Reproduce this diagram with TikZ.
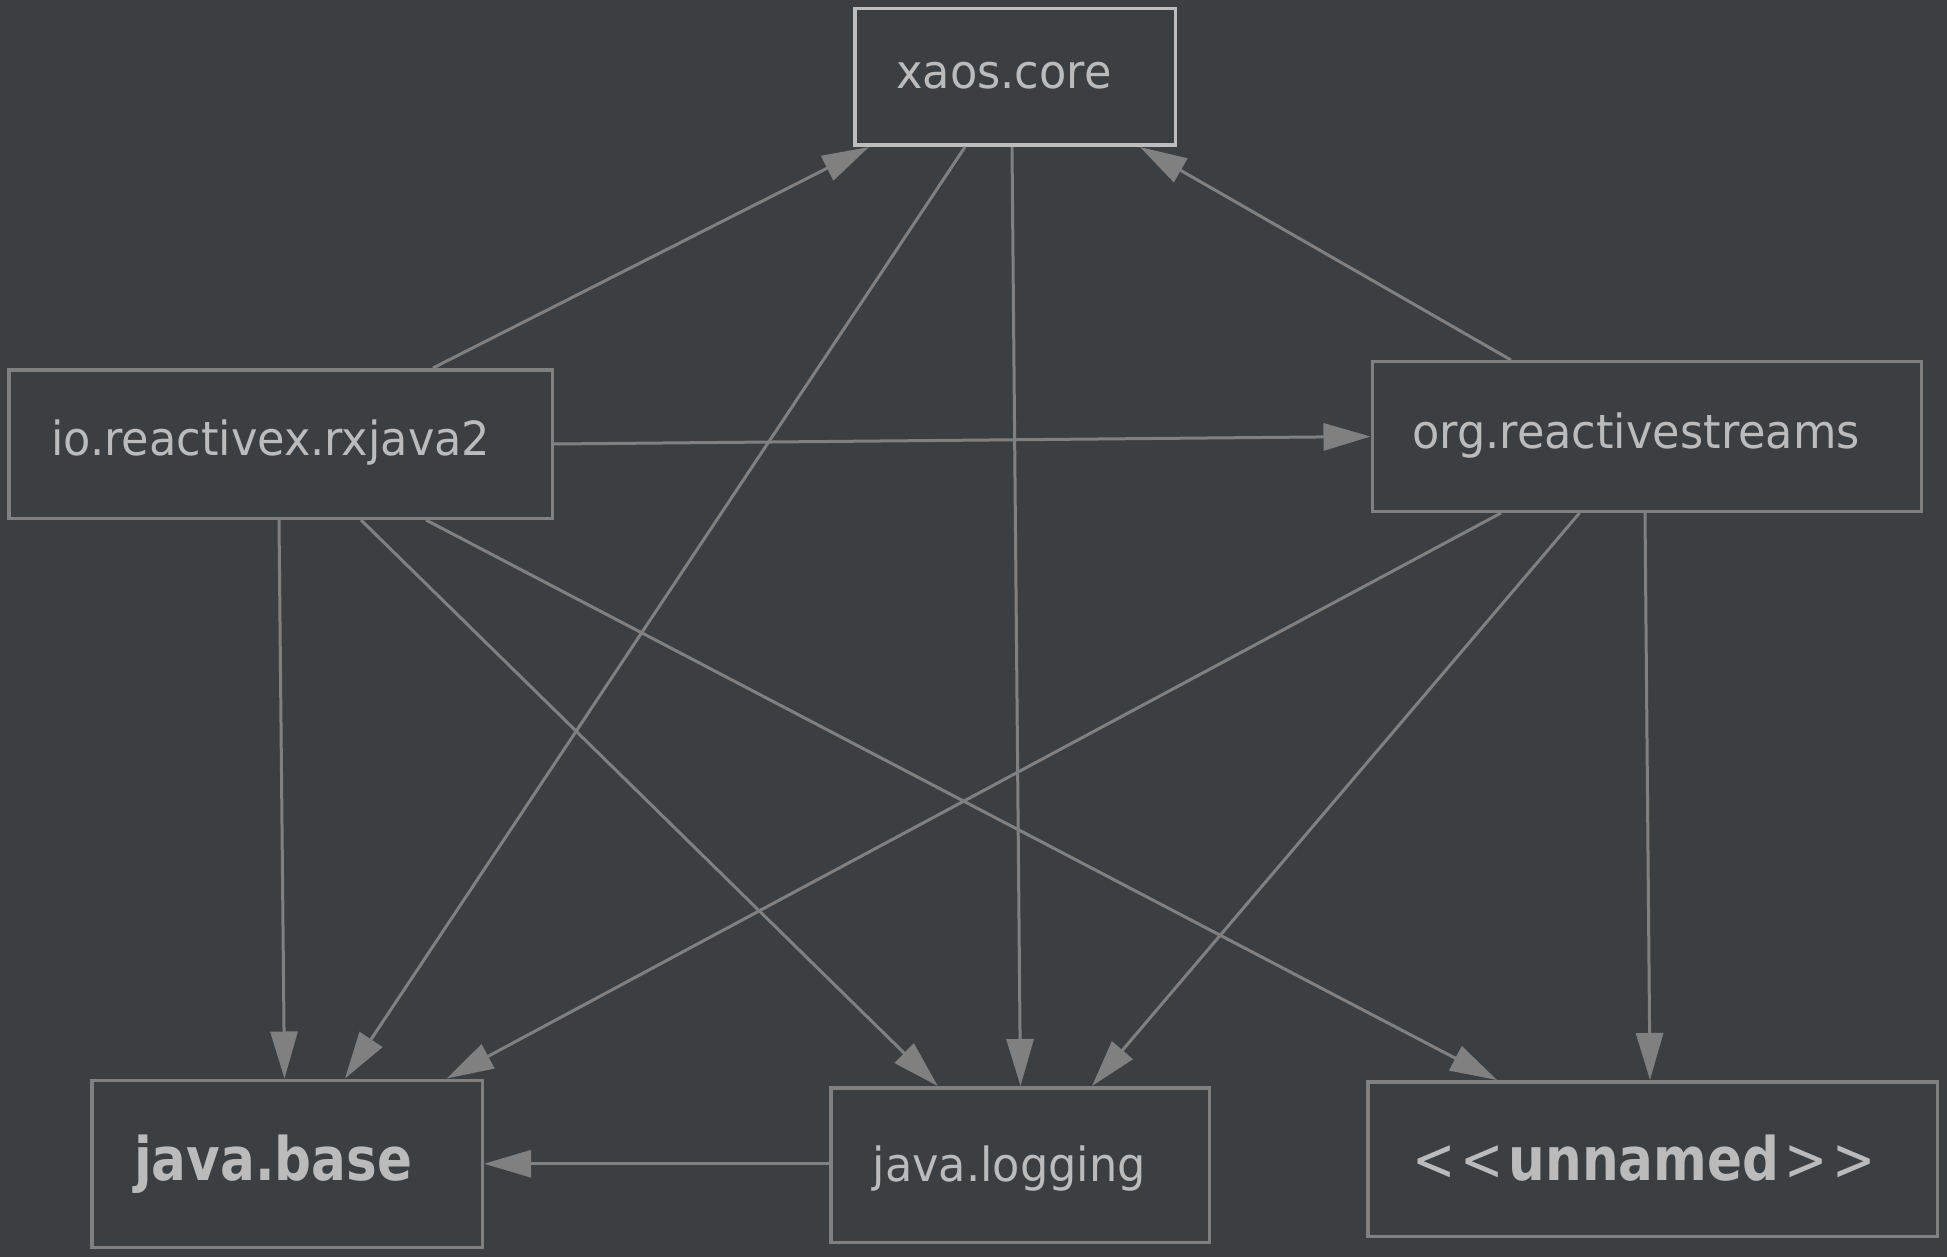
\documentclass[tikz,border=0pt]{standalone}
\usepackage{fontspec}
\setmainfont{DejaVu Sans}[FakeStretch=0.95]
\newfontfamily\boldfam{DejaVu Sans}[FakeStretch=0.86]
\usetikzlibrary{arrows.meta}
\definecolor{bgc}{HTML}{3C3F41}
\definecolor{linec}{HTML}{808080}
\definecolor{txtc}{HTML}{BBBBBB}
\definecolor{selc}{HTML}{BDBDBD}
\begin{document}
\begin{tikzpicture}[x=1pt,y=-1pt,
  modbox/.style={draw=linec, line width=3.5pt, fill=bgc, inner sep=0pt, rectangle},
  lbl/.style={anchor=base west, inner sep=0pt, text=txtc, font=\fontsize{47}{50}\selectfont},
  blbl/.style={anchor=base west, inner sep=0pt, text=txtc, font=\boldfam\fontsize{60}{64}\selectfont},
  dep/.style={draw=linec, line width=3pt, -{Triangle[length=47pt,width=27pt]}}]
\fill[bgc] (0,0) rectangle (1947,1257);
\useasboundingbox (0,0) rectangle (1947,1257);

\node[modbox, draw=selc, minimum width=320.5pt, minimum height=136.5pt] (xaos) at (1015,77) {};
\node[modbox, minimum width=543.5pt, minimum height=148.5pt] (rx) at (280.5,444) {};
\node[modbox, minimum width=549pt, minimum height=149.5pt] (rs) at (1646.75,436.5) {};
\node[modbox, minimum width=390.5pt, minimum height=167pt] (base) at (287,1163.75) {};
\node[modbox, minimum width=378.5pt, minimum height=154.5pt] (log) at (1020,1165) {};
\node[modbox, minimum width=569.5pt, minimum height=154.5pt] (un) at (1652.5,1159) {};

\node[lbl] (xaosl) at (896,88.3) {xaos.core};
\node[lbl] (rxl) at (51,455) {io.reactivex.rxjava2};
\node[lbl] (rsl) at (1412,448.3) {org.reactivestreams};
\node[blbl] (basel) at (134,1180.7) {\textbf{java.base}};
\node[lbl] (logl) at (872.5,1181) {java.logging};
\node[blbl] (unl) at (1412,1180) {<\kern5pt<\kern5pt\textbf{unnamed}\kern5pt>\kern5pt>};

\draw[dep] ([xshift=426pt]rx.north west) -- ([xshift=16pt]xaos.south west);
\draw[dep] ([xshift=140.5pt]rs.north west) -- ([xshift=287pt]xaos.south west);
\draw[dep] ([xshift=112pt]xaos.south west) -- ([xshift=255pt]base.north west);
\draw[dep] ([xshift=159pt]xaos.south west) -- ([xshift=191.5pt]log.north west);
\draw[dep] ([yshift=-76pt]rx.north east) -- (rs.west);
\draw[dep] ([xshift=272pt]rx.south west) -- ([xshift=194.5pt]base.north west);
\draw[dep] ([xshift=354pt]rx.south west) -- ([xshift=108.7pt]log.north west);
\draw[dep] ([xshift=419pt]rx.south west) -- ([xshift=131pt]un.north west);
\draw[dep] ([xshift=130.5pt]rs.south west) -- ([xshift=356.7pt]base.north west);
\draw[dep] ([xshift=209pt]rs.south west) -- ([xshift=263pt]log.north west);
\draw[dep] ([xshift=274.5pt]rs.south west) -- ([xshift=284pt]un.north west);
\draw[dep] ([yshift=1.25pt]log.west) -- (base.east);
\end{tikzpicture}
\end{document}
